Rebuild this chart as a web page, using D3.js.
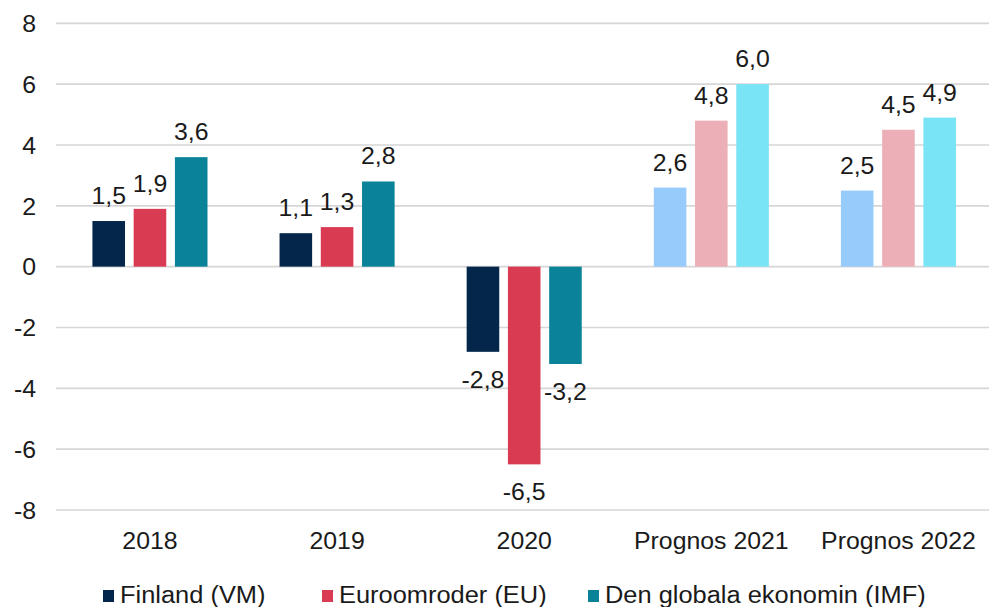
<!DOCTYPE html>
<html>
<head>
<meta charset="utf-8">
<script src="https://cdnjs.cloudflare.com/ajax/libs/d3/7.8.5/d3.min.js"></script>
<style>
  html, body { margin: 0; padding: 0; background: #fff; }
  svg { display: block; font-family: "Liberation Sans", Arial, sans-serif; }
</style>
</head>
<body>
<svg id="chart" width="989" height="607"></svg>
<script>
const categories = ["2018", "2019", "2020", "Prognos 2021", "Prognos 2022"];
const seriesNames = ["Finland (VM)", "Euroomroder (EU)", "Den globala ekonomin (IMF)"];
const finland = [1.5, 1.1, -2.8, 2.6, 2.5];
const euro = [1.9, 1.3, -6.5, 4.8, 4.5];
const global = [3.6, 2.8, -3.2, 6.0, 4.9];
const yTicks = [-8, -6, -4, -2, 0, 2, 4, 6, 8];
const actualColors = ["#03264A", "#D93B52", "#0A8398"];
const forecastColors = ["#96CBFC", "#EDAFB7", "#78E4F6"];
const forecastFlags = [false, false, false, true, true];

const seriesValues = [finland, euro, global];
const svg = d3.select("#chart");
const FONT = 23, STRETCH = 1.08, LEGEND_STRETCH = 1.105;

const x0 = d3.scaleBand().domain(categories).range([56.4, 992]).paddingInner(0.385).paddingOuter(0.1925);
const x1 = d3.scaleBand().domain(d3.range(3)).range([0, x0.bandwidth()]).paddingInner(0.21).paddingOuter(0);
const y = d3.scaleLinear().domain([-8, 8]).range([510, 23.3]);

// gridlines
svg.append("g").selectAll("line").data(yTicks).join("line")
  .attr("x1", 56).attr("x2", 989)
  .attr("y1", d => y(d)).attr("y2", d => y(d))
  .attr("stroke", "#d6d6d6").attr("stroke-width", 1.7);

// y axis labels
const yAxis = d3.axisLeft(y).tickValues(yTicks).tickSize(0).tickPadding(0).tickFormat(d => String(d));
const ya = svg.append("g").attr("transform", "translate(36,0)").call(yAxis);
ya.select(".domain").remove();
ya.selectAll("text").attr("font-size", FONT).attr("fill", "#1a1a1a")
  .attr("font-family", "Liberation Sans, Arial, sans-serif").attr("dy", "0.36em");

// x axis labels
const xAxis = d3.axisBottom(x0).tickSize(0).tickPadding(0);
const xa = svg.append("g").attr("transform", "translate(0,531)").call(xAxis);
xa.select(".domain").remove();
xa.selectAll("text").attr("font-size", FONT).attr("fill", "#1a1a1a")
  .attr("font-family", "Liberation Sans, Arial, sans-serif").attr("dy", "0.78em");

// bars
const fmt = v => d3.format(".1f")(v).replace(".", ",").replace("−", "-");
const rows = [];
categories.forEach((c, ci) => {
  seriesValues.forEach((vals, si) => {
    rows.push({ c, ci, si, v: vals[ci] });
  });
});
const colorOf = d => (forecastFlags[d.ci] ? forecastColors : actualColors)[d.si];

svg.append("g").selectAll("rect").data(rows).join("rect")
  .attr("x", d => x0(d.c) + x1(d.si))
  .attr("width", x1.bandwidth())
  .attr("y", d => Math.min(y(d.v), y(0)))
  .attr("height", d => Math.abs(y(d.v) - y(0)))
  .attr("fill", colorOf);

svg.append("g").selectAll("text").data(rows).join("text")
  .attr("x", d => x0(d.c) + x1(d.si) + x1.bandwidth() / 2)
  .attr("y", d => d.v >= 0 ? y(d.v) - 17 : y(d.v) + 36)
  .attr("text-anchor", "middle")
  .attr("font-size", FONT).attr("fill", "#1a1a1a")
  .text(d => fmt(d.v));

// legend
const legendX = [103, 322, 588];
const lg = svg.append("g").attr("class", "legend").selectAll("g").data(seriesNames).join("g")
  .attr("transform", (d, i) => `translate(${legendX[i]},0)`);
lg.append("rect").attr("x", 0).attr("y", 590).attr("width", 11).attr("height", 12)
  .attr("fill", (d, i) => actualColors[i]);
lg.append("text").attr("x", 17).attr("y", 603).attr("font-size", FONT).attr("fill", "#1a1a1a").text(d => d);

// horizontal stretch of text to match reference glyph proportions
svg.selectAll("text").each(function () {
  const len = this.getComputedTextLength();
  const inLegend = this.closest(".legend") !== null;
  d3.select(this).attr("textLength", len * (inLegend ? LEGEND_STRETCH : STRETCH)).attr("lengthAdjust", "spacingAndGlyphs");
});
</script>
</body>
</html>
